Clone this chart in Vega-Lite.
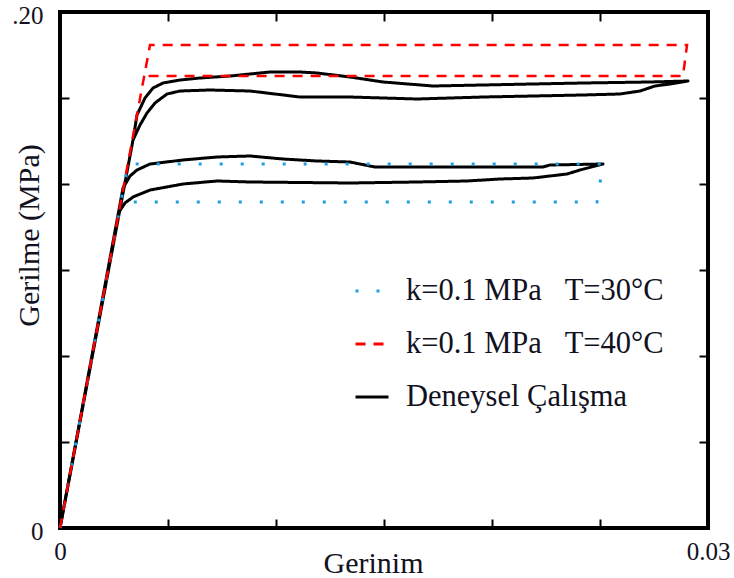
{
  "$schema": "https://vega.github.io/schema/vega-lite/v6.json",
  "width": 648,
  "height": 516,
  "autosize": {"type": "none"},
  "padding": {"left": 60, "top": 12, "right": 26, "bottom": 50},
  "background": "white",
  "config": {"view": {"stroke": "black", "strokeWidth": 4}, "font": "Liberation Serif, Times New Roman, serif"},
  "datasets": {
    "curves": [
      {"s": "Deneysel Çalışma", "p": "e40", "i": 0, "x": 0, "y": 0},
      {"s": "Deneysel Çalışma", "p": "e40", "i": 1, "x": 0.00338, "y": 0.15039},
      {"s": "Deneysel Çalışma", "p": "e40", "i": 2, "x": 0.003565, "y": 0.16008},
      {"s": "Deneysel Çalışma", "p": "e40", "i": 3, "x": 0.003935, "y": 0.16667},
      {"s": "Deneysel Çalışma", "p": "e40", "i": 4, "x": 0.004306, "y": 0.17054},
      {"s": "Deneysel Çalışma", "p": "e40", "i": 5, "x": 0.004769, "y": 0.17248},
      {"s": "Deneysel Çalışma", "p": "e40", "i": 6, "x": 0.005556, "y": 0.17364},
      {"s": "Deneysel Çalışma", "p": "e40", "i": 7, "x": 0.006481, "y": 0.17442},
      {"s": "Deneysel Çalışma", "p": "e40", "i": 8, "x": 0.00787, "y": 0.17519},
      {"s": "Deneysel Çalışma", "p": "e40", "i": 9, "x": 0.009722, "y": 0.17674},
      {"s": "Deneysel Çalışma", "p": "e40", "i": 10, "x": 0.011111, "y": 0.17674},
      {"s": "Deneysel Çalışma", "p": "e40", "i": 11, "x": 0.011898, "y": 0.17636},
      {"s": "Deneysel Çalışma", "p": "e40", "i": 12, "x": 0.013426, "y": 0.17481},
      {"s": "Deneysel Çalışma", "p": "e40", "i": 13, "x": 0.014954, "y": 0.17287},
      {"s": "Deneysel Çalışma", "p": "e40", "i": 14, "x": 0.017269, "y": 0.17132},
      {"s": "Deneysel Çalışma", "p": "e40", "i": 15, "x": 0.019583, "y": 0.17171},
      {"s": "Deneysel Çalışma", "p": "e40", "i": 16, "x": 0.024213, "y": 0.17248},
      {"s": "Deneysel Çalışma", "p": "e40", "i": 17, "x": 0.027315, "y": 0.17287},
      {"s": "Deneysel Çalışma", "p": "e40", "i": 18, "x": 0.029074, "y": 0.17326},
      {"s": "Deneysel Çalışma", "p": "e40", "i": 19, "x": 0.028241, "y": 0.17209},
      {"s": "Deneysel Çalışma", "p": "e40", "i": 20, "x": 0.027546, "y": 0.17132},
      {"s": "Deneysel Çalışma", "p": "e40", "i": 21, "x": 0.026852, "y": 0.16938},
      {"s": "Deneysel Çalışma", "p": "e40", "i": 22, "x": 0.025926, "y": 0.16822},
      {"s": "Deneysel Çalışma", "p": "e40", "i": 23, "x": 0.024213, "y": 0.16783},
      {"s": "Deneysel Çalışma", "p": "e40", "i": 24, "x": 0.021898, "y": 0.16744},
      {"s": "Deneysel Çalışma", "p": "e40", "i": 25, "x": 0.019583, "y": 0.16705},
      {"s": "Deneysel Çalışma", "p": "e40", "i": 26, "x": 0.016528, "y": 0.16628},
      {"s": "Deneysel Çalışma", "p": "e40", "i": 27, "x": 0.013426, "y": 0.16705},
      {"s": "Deneysel Çalışma", "p": "e40", "i": 28, "x": 0.011111, "y": 0.16705},
      {"s": "Deneysel Çalışma", "p": "e40", "i": 29, "x": 0.008796, "y": 0.16938},
      {"s": "Deneysel Çalışma", "p": "e40", "i": 30, "x": 0.006944, "y": 0.16977},
      {"s": "Deneysel Çalışma", "p": "e40", "i": 31, "x": 0.005556, "y": 0.16938},
      {"s": "Deneysel Çalışma", "p": "e40", "i": 32, "x": 0.004954, "y": 0.16822},
      {"s": "Deneysel Çalışma", "p": "e40", "i": 33, "x": 0.004398, "y": 0.16473},
      {"s": "Deneysel Çalışma", "p": "e40", "i": 34, "x": 0.004028, "y": 0.16085},
      {"s": "Deneysel Çalışma", "p": "e40", "i": 35, "x": 0.003704, "y": 0.1562},
      {"s": "Deneysel Çalışma", "p": "e40", "i": 36, "x": 0.00338, "y": 0.15039},
      {"s": "Deneysel Çalışma", "p": "e30", "i": 0, "x": 0, "y": 0},
      {"s": "Deneysel Çalışma", "p": "e30", "i": 1, "x": 0.002917, "y": 0.13178},
      {"s": "Deneysel Çalışma", "p": "e30", "i": 2, "x": 0.003241, "y": 0.13643},
      {"s": "Deneysel Çalışma", "p": "e30", "i": 3, "x": 0.003565, "y": 0.13876},
      {"s": "Deneysel Çalışma", "p": "e30", "i": 4, "x": 0.004167, "y": 0.14109},
      {"s": "Deneysel Çalışma", "p": "e30", "i": 5, "x": 0.005694, "y": 0.14264},
      {"s": "Deneysel Çalışma", "p": "e30", "i": 6, "x": 0.007269, "y": 0.1438},
      {"s": "Deneysel Çalışma", "p": "e30", "i": 7, "x": 0.008796, "y": 0.14419},
      {"s": "Deneysel Çalışma", "p": "e30", "i": 8, "x": 0.010324, "y": 0.14302},
      {"s": "Deneysel Çalışma", "p": "e30", "i": 9, "x": 0.011898, "y": 0.14225},
      {"s": "Deneysel Çalışma", "p": "e30", "i": 10, "x": 0.013426, "y": 0.14186},
      {"s": "Deneysel Çalışma", "p": "e30", "i": 11, "x": 0.014583, "y": 0.13992},
      {"s": "Deneysel Çalışma", "p": "e30", "i": 12, "x": 0.017269, "y": 0.13992},
      {"s": "Deneysel Çalışma", "p": "e30", "i": 13, "x": 0.022361, "y": 0.13992},
      {"s": "Deneysel Çalışma", "p": "e30", "i": 14, "x": 0.022685, "y": 0.1407},
      {"s": "Deneysel Çalışma", "p": "e30", "i": 15, "x": 0.025139, "y": 0.14109},
      {"s": "Deneysel Çalışma", "p": "e30", "i": 16, "x": 0.024074, "y": 0.13876},
      {"s": "Deneysel Çalışma", "p": "e30", "i": 17, "x": 0.023472, "y": 0.13721},
      {"s": "Deneysel Çalışma", "p": "e30", "i": 18, "x": 0.021898, "y": 0.13566},
      {"s": "Deneysel Çalışma", "p": "e30", "i": 19, "x": 0.02037, "y": 0.13527},
      {"s": "Deneysel Çalışma", "p": "e30", "i": 20, "x": 0.018843, "y": 0.1345},
      {"s": "Deneysel Çalışma", "p": "e30", "i": 21, "x": 0.016528, "y": 0.13411},
      {"s": "Deneysel Çalışma", "p": "e30", "i": 22, "x": 0.013426, "y": 0.13372},
      {"s": "Deneysel Çalışma", "p": "e30", "i": 23, "x": 0.008796, "y": 0.13411},
      {"s": "Deneysel Çalışma", "p": "e30", "i": 24, "x": 0.007269, "y": 0.1345},
      {"s": "Deneysel Çalışma", "p": "e30", "i": 25, "x": 0.005694, "y": 0.13333},
      {"s": "Deneysel Çalışma", "p": "e30", "i": 26, "x": 0.004167, "y": 0.131},
      {"s": "Deneysel Çalışma", "p": "e30", "i": 27, "x": 0.00338, "y": 0.12829},
      {"s": "Deneysel Çalışma", "p": "e30", "i": 28, "x": 0.003009, "y": 0.12597},
      {"s": "Deneysel Çalışma", "p": "e30", "i": 29, "x": 0.002731, "y": 0.12248},
      {"s": "k=0.1 MPa\u00a0\u00a0\u00a0T=30°C", "p": "m30", "i": 0, "x": 0, "y": 0},
      {"s": "k=0.1 MPa\u00a0\u00a0\u00a0T=30°C", "p": "m30", "i": 1, "x": 0.003148, "y": 0.14109},
      {"s": "k=0.1 MPa\u00a0\u00a0\u00a0T=30°C", "p": "m30", "i": 2, "x": 0.025139, "y": 0.14109},
      {"s": "k=0.1 MPa\u00a0\u00a0\u00a0T=30°C", "p": "m30", "i": 3, "x": 0.024861, "y": 0.12636},
      {"s": "k=0.1 MPa\u00a0\u00a0\u00a0T=30°C", "p": "m30", "i": 4, "x": 0.00287, "y": 0.12636},
      {"s": "k=0.1 MPa\u00a0\u00a0\u00a0T=40°C", "p": "m40", "i": 0, "x": 0, "y": 0},
      {"s": "k=0.1 MPa\u00a0\u00a0\u00a0T=40°C", "p": "m40", "i": 1, "x": 0.004167, "y": 0.18721},
      {"s": "k=0.1 MPa\u00a0\u00a0\u00a0T=40°C", "p": "m40", "i": 2, "x": 0.02903, "y": 0.18721},
      {"s": "k=0.1 MPa\u00a0\u00a0\u00a0T=40°C", "p": "m40", "i": 3, "x": 0.02884, "y": 0.17519},
      {"s": "k=0.1 MPa\u00a0\u00a0\u00a0T=40°C", "p": "m40", "i": 4, "x": 0.004074, "y": 0.17519}
    ]
  },
  "data": {"name": "curves"},
  "layer": [
    {
      "transform": [{"filter": {"field": "p", "oneOf": ["e40", "e30"]}}],
      "mark": {"type": "line", "strokeWidth": 3, "strokeJoin": "round"},
      "encoding": {
        "x": {"field": "x", "type": "quantitative", "scale": {"domain": [0, 0.03], "nice": false, "zero": false},
          "axis": {"values": [0, 0.005, 0.01, 0.015, 0.02, 0.025, 0.03], "labelExpr": "datum.value == 0 ? '0' : (datum.value > 0.029 ? '0.03' : '')",
            "tickSize": -9, "tickWidth": 2, "tickColor": "black", "domain": false, "grid": false, "labelFlush": false, "labelOverlap": false,
            "labelFont": "Liberation Serif, Times New Roman, serif", "labelFontSize": 25, "labelColor": "#111122", "labelPadding": 20,
            "title": "Gerinim", "titleFont": "Liberation Serif, Times New Roman, serif", "titleFontSize": 30, "titleFontWeight": "normal", "titleColor": "#111122",
            "titleX": 313, "titleY": 44, "titleBaseline": "alphabetic"}},
        "y": {"field": "y", "type": "quantitative", "scale": {"domain": [0, 0.2], "nice": false, "zero": false},
          "axis": {"values": [0, 0.033333, 0.066667, 0.1, 0.133333, 0.166667, 0.2], "labelExpr": "datum.value == 0 ? '0' : (datum.value > 0.19 ? '.20' : '')",
            "tickSize": -9, "tickWidth": 2, "tickColor": "black", "domain": false, "grid": false, "labelFlush": false, "labelOverlap": false,
            "labelFont": "Liberation Serif, Times New Roman, serif", "labelFontSize": 25, "labelColor": "#111122", "labelPadding": 26, "labelOffset": 3,
            "title": "Gerilme (MPa)", "titleFont": "Liberation Serif, Times New Roman, serif", "titleFontSize": 30, "titleFontWeight": "normal", "titleColor": "#111122",
            "titleX": -31, "titleY": 223, "titleBaseline": "middle"}},
        "color": {"field": "s", "type": "nominal",
          "scale": {"domain": ["k=0.1 MPa\u00a0\u00a0\u00a0T=30°C", "k=0.1 MPa\u00a0\u00a0\u00a0T=40°C", "Deneysel Çalışma"], "range": ["#1E9FE3", "#FF0000", "#000000"]},
          "legend": {"orient": "none", "legendX": 294, "legendY": 261, "title": null, "symbolType": "stroke", "symbolSize": 1089, "symbolStrokeWidth": 3,
            "labelFont": "Liberation Serif, Times New Roman, serif", "labelFontSize": 30.5, "labelColor": "#111122", "labelOffset": 16, "rowPadding": 19, "padding": 0, "labelLimit": 400}},
        "strokeDash": {"field": "s", "type": "nominal",
          "scale": {"domain": ["k=0.1 MPa\u00a0\u00a0\u00a0T=30°C", "k=0.1 MPa\u00a0\u00a0\u00a0T=40°C", "Deneysel Çalışma"], "range": [[3, 18], [10, 8], [1, 0]]}},
        "detail": {"field": "p"},
        "order": {"field": "i", "type": "quantitative"}
      }
    },
    {
      "transform": [{"filter": {"field": "p", "equal": "m30"}}],
      "mark": {"type": "line", "strokeWidth": 3, "strokeCap": "butt"},
      "encoding": {
        "x": {"field": "x", "type": "quantitative", "axis": null},
        "y": {"field": "y", "type": "quantitative", "axis": null},
        "color": {"field": "s", "type": "nominal"},
        "strokeDash": {"field": "s", "type": "nominal"},
        "order": {"field": "i", "type": "quantitative"}
      }
    },
    {
      "transform": [{"filter": {"field": "p", "equal": "m40"}}],
      "mark": {"type": "line", "strokeWidth": 2.5, "strokeCap": "butt"},
      "encoding": {
        "x": {"field": "x", "type": "quantitative", "axis": null},
        "y": {"field": "y", "type": "quantitative", "axis": null},
        "color": {"field": "s", "type": "nominal"},
        "strokeDash": {"field": "s", "type": "nominal"},
        "order": {"field": "i", "type": "quantitative"}
      }
    },
    {
      "mark": {"type": "point", "opacity": 0},
      "encoding": {
        "x": {"field": "x", "type": "quantitative",
          "axis": {"orient": "top", "values": [0.005, 0.01, 0.015, 0.02, 0.025], "labels": false, "tickSize": -9, "tickWidth": 2, "tickColor": "black", "domain": false, "grid": false, "title": null}},
        "y": {"field": "y", "type": "quantitative",
          "axis": {"orient": "right", "values": [0.033333, 0.066667, 0.1, 0.133333, 0.166667], "labels": false, "tickSize": -9, "tickWidth": 2, "tickColor": "black", "domain": false, "grid": false, "title": null}}
      }
    }
  ],
  "resolve": {"axis": {"x": "independent", "y": "independent"}}
}
